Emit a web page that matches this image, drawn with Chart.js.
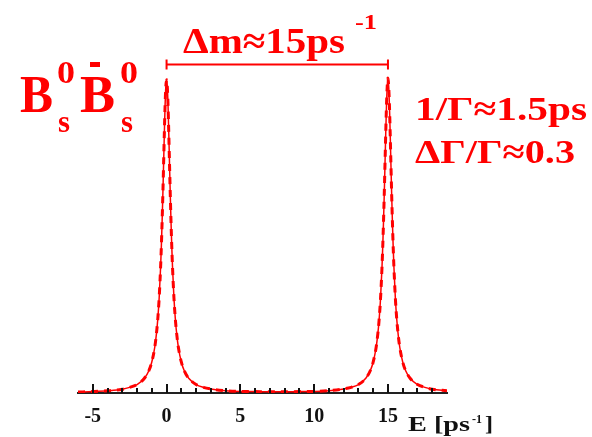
<!DOCTYPE html>
<html>
<head>
<meta charset="utf-8">
<script src="https://cdn.jsdelivr.net/npm/chart.js@4/dist/chart.umd.min.js"></script>
<style>
  body { margin: 0; background: #fff; }
  canvas { display: block; }
</style>
</head>
<body>
<canvas id="myChart" width="592" height="437"></canvas>
<script>
// energy axis (ps^-1) and spectrum amplitude
const energy = [-6, -5, -4, -3, -2.5, -2, -1.5, -1.2, -1, -0.8, -0.7, -0.6, -0.5, -0.4, -0.35, -0.3, -0.25, -0.2, -0.15, -0.1, -0.05,
    0, 0.05, 0.1, 0.15, 0.2, 0.25, 0.3, 0.35, 0.4, 0.5, 0.6, 0.7, 0.8, 1, 1.2, 1.5, 2, 2.5, 3, 4, 5, 6, 7.5,
    9, 10, 11, 12, 12.5, 13, 13.5, 13.8, 14, 14.2, 14.3, 14.4, 14.5, 14.6, 14.65, 14.7, 14.75, 14.8, 14.85, 14.9, 14.95,
    15, 15.05, 15.1, 15.15, 15.2, 15.25, 15.3, 15.35, 15.4, 15.5, 15.6, 15.7, 15.8, 16, 16.2, 16.5, 17, 17.5, 18, 19]
const amplitude = [0.003, 0.0045, 0.007, 0.012, 0.018, 0.027, 0.047, 0.071, 0.099, 0.146, 0.183, 0.233, 0.304, 0.406, 0.472, 0.549, 0.636, 0.732, 0.83, 0.917, 0.978,
    1.0, 0.978, 0.917, 0.83, 0.732, 0.636, 0.549, 0.472, 0.406, 0.304, 0.233, 0.183, 0.146, 0.099, 0.071, 0.047, 0.027, 0.018, 0.013, 0.0075, 0.005, 0.0045, 0.004,
    0.0045, 0.005, 0.0075, 0.013, 0.018, 0.027, 0.047, 0.071, 0.099, 0.146, 0.183, 0.233, 0.304, 0.406, 0.472, 0.549, 0.636, 0.732, 0.83, 0.917, 0.978,
    1.005, 0.978, 0.917, 0.83, 0.732, 0.636, 0.549, 0.472, 0.406, 0.304, 0.233, 0.183, 0.146, 0.099, 0.071, 0.047, 0.027, 0.018, 0.012, 0.007]
const tickLabels = [-5, 0, 5, 10, 15]
const xRange = [-6, 19]
const splitting = [0, 15] // delta m bracket ends

const red = 'rgb(255, 0, 0)'
const serif = '"Liberation Serif", "Times New Roman", serif'

const points = energy.map((e, i) => ({ x: e, y: amplitude[i] }))

// draws a string squeezed/stretched to a given width
function fitText(ctx, str, left, base, size, width) {
    ctx.font = 'bold ' + size + 'px ' + serif
    const w = ctx.measureText(str).width
    ctx.save()
    ctx.translate(left, base)
    ctx.scale(width / w, 1)
    ctx.fillText(str, 0, 0)
    ctx.restore()
}

const decor = {
    id: 'decor',
    afterDatasetsDraw(chart) {
        const ctx = chart.ctx
        const x = chart.scales.x
        const y = chart.scales.y
        const bottom = chart.chartArea.bottom
        // inward tick marks
        ctx.save()
        ctx.strokeStyle = '#111'
        ctx.lineWidth = 2
        for (let v = -5; v <= 18; v++) {
            const px = Math.round(x.getPixelForValue(v))
            const len = tickLabels.includes(v) ? 9 : 5
            ctx.beginPath()
            ctx.moveTo(px, bottom)
            ctx.lineTo(px, bottom - len)
            ctx.stroke()
        }
        ctx.restore()

        // delta m bracket
        const x0 = x.getPixelForValue(splitting[0])
        const x1 = x.getPixelForValue(splitting[1])
        const by = Math.round(y.getPixelForValue(1.05)) + 0.5
        ctx.save()
        ctx.strokeStyle = red
        ctx.lineWidth = 2
        ctx.beginPath()
        ctx.moveTo(x0, by); ctx.lineTo(x1, by)
        ctx.moveTo(x0, by - 5); ctx.lineTo(x0, by + 5)
        ctx.moveTo(x1, by - 5); ctx.lineTo(x1, by + 5)
        ctx.stroke()
        ctx.restore()
    },
    afterDraw(chart) {
        const ctx = chart.ctx
        ctx.save()
        ctx.textAlign = 'left'
        ctx.textBaseline = 'alphabetic'
        ctx.fillStyle = red
        fitText(ctx, 'Δm≈15ps', 183, 53, 36, 162)
        fitText(ctx, '-1', 355, 29, 20, 22)

        fitText(ctx, 'B', 20, 112, 53, 33)
        fitText(ctx, '0', 57, 83, 31, 18)
        fitText(ctx, 's', 58, 132, 31, 12)
        fitText(ctx, 'B', 80, 112, 53, 35)
        ctx.fillRect(90, 62, 10, 5)
        fitText(ctx, '0', 120, 83, 31, 18)
        fitText(ctx, 's', 121, 132, 31, 12)

        fitText(ctx, '1/Γ≈1.5ps', 415, 120, 34, 172)
        fitText(ctx, 'ΔΓ/Γ≈0.3', 415, 163, 34, 160)

        // axis title
        ctx.fillStyle = '#111'
        fitText(ctx, 'E [ps', 408, 431, 21, 62)
        fitText(ctx, '-1', 472, 423, 13, 10)
        fitText(ctx, ']', 485, 431, 21, 8)
        ctx.restore()
    }
}

const data = {
    datasets: [{
        data: points,
        borderColor: red,
        borderWidth: 1.5,
        pointRadius: 0,
        cubicInterpolationMode: 'monotone',
        fill: false
    }, {
        data: points,
        borderColor: red,
        borderWidth: 3,
        borderDash: [7, 6],
        pointRadius: 0,
        cubicInterpolationMode: 'monotone',
        fill: false
    }]
}

const config = {
    type: 'line',
    data: data,
    options: {
        responsive: false,
        animation: false,
        layout: { padding: { left: 78, right: 145, top: 64, bottom: 0 } },
        plugins: { legend: { display: false }, tooltip: { enabled: false } },
        scales: {
            x: {
                type: 'linear',
                min: xRange[0],
                max: xRange[1],
                afterFit: (scale) => { scale.height = 44 },
                grid: { display: false, drawTicks: false },
                border: { display: true, color: '#222', width: 2 },
                ticks: {
                    stepSize: 1,
                    autoSkip: false,
                    maxRotation: 0,
                    padding: 12,
                    color: '#111',
                    font: { family: serif, size: 20, weight: 'bold' },
                    callback: (v) => tickLabels.includes(v) ? String(v) : ''
                }
            },
            y: {
                display: false,
                min: 0,
                max: 1.05
            }
        }
    },
    plugins: [decor]
}

const myChart = new Chart(document.getElementById('myChart'), config)
</script>
</body>
</html>
